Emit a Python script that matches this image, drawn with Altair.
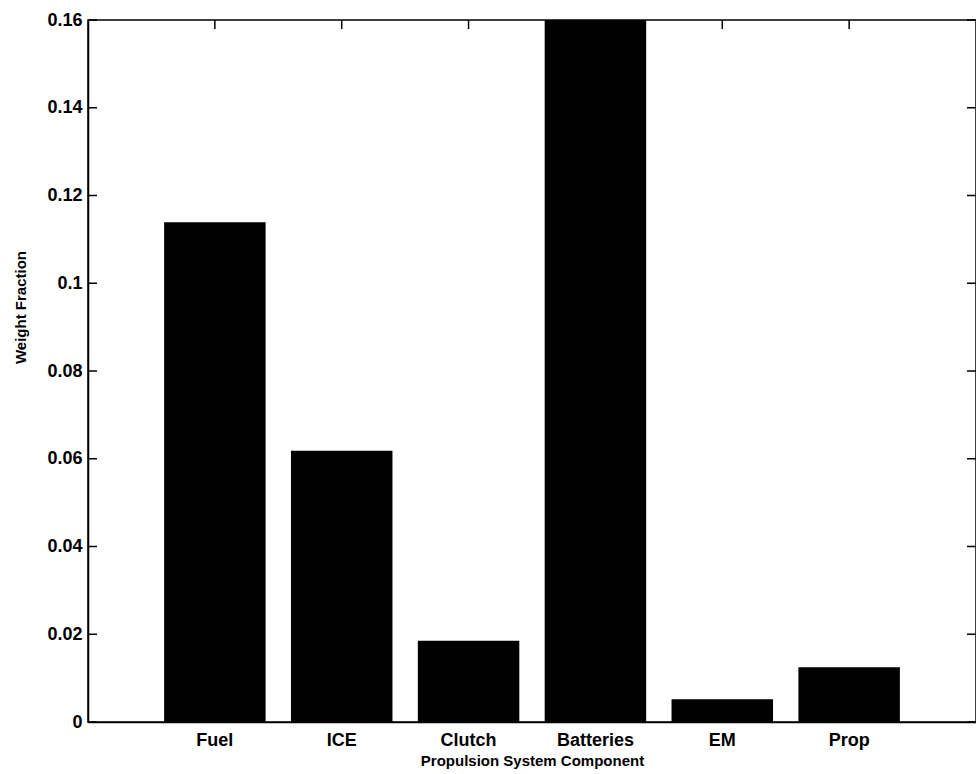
import altair as alt
import pandas as pd

components = ["Fuel", "ICE", "Clutch", "Batteries", "EM", "Prop"]
weight_fraction = [0.1139, 0.0618, 0.0185, 0.17, 0.0052, 0.0125]
y_tick_values = [0, 0.02, 0.04, 0.06, 0.08, 0.10, 0.12, 0.14, 0.16]

W, H = 888, 702
FONT = "Liberation Sans"

bars_df = pd.DataFrame({"component": components, "value": weight_fraction})
yt_df = pd.DataFrame({"value": y_tick_values})

x_scale = alt.Scale(domain=components, paddingInner=0.2, paddingOuter=0.6)
y_scale = alt.Scale(domain=[0, 0.16], nice=False, zero=True)

x_axis = alt.Axis(
    title="Propulsion System Component",
    labelAngle=0,
    ticks=False,
    domain=True,
    domainColor="black",
    domainWidth=1.5,
    labelFont=FONT,
    labelFontSize=18,
    labelFontWeight="bold",
    labelColor="black",
    labelPadding=9,
    titleFont=FONT,
    titleFontSize=15,
    titleFontWeight="bold",
    titleColor="black",
    titlePadding=4,
    grid=False,
)

y_axis = alt.Axis(
    title="Weight Fraction",
    values=y_tick_values,
    format=".2~f",
    ticks=False,
    domain=True,
    domainColor="black",
    domainWidth=1.5,
    labelFont=FONT,
    labelFontSize=18,
    labelFontWeight="bold",
    labelColor="black",
    labelPadding=6,
    titleFont=FONT,
    titleFontSize=15,
    titleFontWeight="bold",
    titleColor="black",
    titleX=-68,
    titleY=287,
    titleAlign="center",
    titleBaseline="middle",
    titleAngle=270,
    grid=False,
)

bars = alt.Chart(bars_df).mark_bar(color="black", clip=True).encode(
    x=alt.X("component:N", scale=x_scale, sort=components, axis=x_axis),
    y=alt.Y("value:Q", scale=y_scale, axis=y_axis),
)

left_ticks = alt.Chart(yt_df).mark_rule(color="black", strokeWidth=1.5).encode(
    y=alt.Y("value:Q", scale=y_scale, axis=y_axis),
    x=alt.value(0),
    x2=alt.value(9),
)

right_ticks = alt.Chart(yt_df).mark_rule(color="black", strokeWidth=1.5).encode(
    y=alt.Y("value:Q", scale=y_scale, axis=y_axis),
    x=alt.value(W - 9),
    x2=alt.value(W),
)

top_ticks = alt.Chart(bars_df).mark_rule(color="black", strokeWidth=1.5).encode(
    x=alt.X("component:N", scale=x_scale, sort=components, axis=x_axis),
    y=alt.value(0),
    y2=alt.value(9),
)

chart = (
    alt.layer(bars, left_ticks, right_ticks, top_ticks)
    .properties(
        width=W,
        height=H,
        autosize=alt.AutoSizeParams(type="none"),
        padding={"left": 88, "top": 20, "right": 0, "bottom": 52},
        background="white",
    )
    .configure_view(stroke="black", strokeWidth=1.5)
)

chart.save("out.html", embed_options={"renderer": "svg", "actions": False})
